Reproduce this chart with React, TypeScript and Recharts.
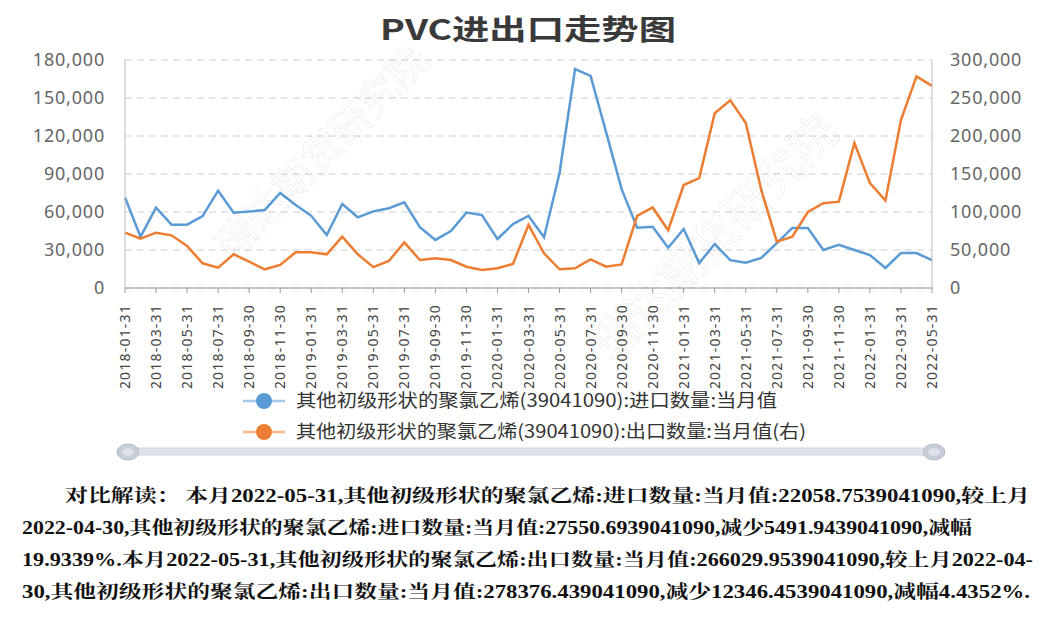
import React from 'react';
import { LineChart, Line, XAxis, YAxis, CartesianGrid } from 'recharts';

const dates = [
  '2018-01-31', '2018-02-28', '2018-03-31', '2018-04-30', '2018-05-31', '2018-06-30',
  '2018-07-31', '2018-08-31', '2018-09-30', '2018-10-31', '2018-11-30', '2018-12-31',
  '2019-01-31', '2019-02-28', '2019-03-31', '2019-04-30', '2019-05-31', '2019-06-30',
  '2019-07-31', '2019-08-31', '2019-09-30', '2019-10-31', '2019-11-30', '2019-12-31',
  '2020-01-31', '2020-02-29', '2020-03-31', '2020-04-30', '2020-05-31', '2020-06-30',
  '2020-07-31', '2020-08-31', '2020-09-30', '2020-10-31', '2020-11-30', '2020-12-31',
  '2021-01-31', '2021-02-28', '2021-03-31', '2021-04-30', '2021-05-31', '2021-06-30',
  '2021-07-31', '2021-08-31', '2021-09-30', '2021-10-31', '2021-11-30', '2021-12-31',
  '2022-01-31', '2022-02-28', '2022-03-31', '2022-04-30', '2022-05-31',
];

// 进口数量 (left axis)
const importQty = [
  71500, 40500, 63500, 50000, 50000, 56800, 76800, 59500, 60300, 61600, 75000, 65500,
  57000, 41800, 66300, 55800, 60500, 63000, 67700, 48000, 38000, 45000, 59500, 57600,
  38700, 50500, 57000, 40000, 90800, 172900, 167400, 123000, 78000, 47600, 48400, 31800,
  46600, 19700, 34700, 22000, 20000, 23700, 35500, 47400, 47400, 30000, 34000, 30000,
  26000, 15800, 27600, 27551, 22059,
];

// 出口数量 (right axis)
const exportQty = [
  72800, 64900, 72800, 69300, 55300, 32500, 26700, 44300, 34600, 24600, 30300, 47000,
  47000, 44300, 67500, 44300, 27500, 35500, 60000, 36800, 39000, 36800, 28000, 23700,
  25900, 31600, 82900, 45600, 24600, 25900, 37700, 28000, 31100, 95000, 106000, 76000,
  135500, 144700, 230000, 247000, 217000, 129000, 61000, 67500, 100000, 111600, 113600, 190800,
  138000, 115000, 221000, 278376, 266030,
];

const leftTicks = [0, 30000, 60000, 90000, 120000, 150000, 180000];
const rightTicks = [0, 50000, 100000, 150000, 200000, 250000, 300000];

const seriesNames = [
  '其他初级形状的聚氯乙烯(39041090):进口数量:当月值',
  '其他初级形状的聚氯乙烯(39041090):出口数量:当月值(右)',
];

const summaryLines = [
  '对比解读： 本月2022-05-31,其他初级形状的聚氯乙烯:进口数量:当月值:22058.7539041090,较上月',
  '2022-04-30,其他初级形状的聚氯乙烯:进口数量:当月值:27550.6939041090,减少5491.9439041090,减幅',
  '19.9339%.本月2022-05-31,其他初级形状的聚氯乙烯:出口数量:当月值:266029.9539041090,较上月2022-04-',
  '30,其他初级形状的聚氯乙烯:出口数量:当月值:278376.439041090,减少12346.4539041090,减幅4.4352%.',
];

const BLUE = '#5b9bd5';
const ORANGE = '#ed7d31';
const AXIS_FONT = '"Noto Sans", "DejaVu Sans", sans-serif';

const data = dates.map((d, i) => ({ date: d, imp: importQty[i], exp: exportQty[i] }));

const fmt = (v: number) => v.toLocaleString('en-US');

// eslint-disable-next-line @typescript-eslint/no-explicit-any
const DateTick = (props: any) => {
  const { x, y, payload } = props;
  return (
    <g transform={`translate(${x},${y})`}>
      <text
        transform="rotate(-90)"
        x={-9}
        y={0}
        dy={5}
        textAnchor="end"
        fill="#444"
        fontSize={14}
        letterSpacing={1.2}
        fontFamily={AXIS_FONT}
      >
        {payload.value}
      </text>
    </g>
  );
};

export default function App() {
  return (
    <div
      style={{
        position: 'absolute',
        left: 0,
        top: 0,
        width: 1056,
        height: 630,
        background: '#fff',
        overflow: 'hidden',
      }}
    >
      {/* Title */}
      <svg width={1056} height={60} style={{ position: 'absolute', left: 0, top: 0 }}>
        <text
          x={380}
          y={40}
          textLength={296}
          lengthAdjust="spacingAndGlyphs"
          fontSize={28}
          fontWeight="bold"
          fill="#3a3a3a"
          fontFamily='"Noto Sans CJK SC", sans-serif'
        >
          PVC进出口走势图
        </text>
      </svg>

      <div style={{ position: 'absolute', left: 0, top: 0 }}>
        <LineChart width={1056} height={400} data={data} margin={{ top: 60, right: 0, left: 0, bottom: 0 }}>
          <CartesianGrid yAxisId="left" vertical={false} stroke="#cfcfcf" strokeDasharray="7 5" />
          <XAxis
            dataKey="date"
            interval={1}
            height={112}
            tick={<DateTick />}
            tickLine={{ stroke: '#999' }}
            tickSize={5}
            axisLine={{ stroke: '#999' }}
          />
          <YAxis
            yAxisId="left"
            width={125}
            domain={[0, 180000]}
            ticks={leftTicks}
            tickFormatter={fmt}
            tickLine={false}
            axisLine={{ stroke: '#bbb' }}
            tickMargin={14}
            tick={{ fill: '#666', fontSize: 18, fontFamily: AXIS_FONT, letterSpacing: 0.8 }}
          />
          <YAxis
            yAxisId="right"
            orientation="right"
            width={124}
            domain={[0, 300000]}
            ticks={rightTicks}
            tickFormatter={fmt}
            tickLine={false}
            axisLine={{ stroke: '#bbb' }}
            tickMargin={12}
            tick={{ fill: '#666', fontSize: 18, fontFamily: AXIS_FONT, letterSpacing: 0.8 }}
          />
          <Line
            yAxisId="left"
            type="linear"
            dataKey="imp"
            stroke={BLUE}
            strokeWidth={2.5}
            dot={false}
            isAnimationActive={false}
          />
          <Line
            yAxisId="right"
            type="linear"
            dataKey="exp"
            stroke={ORANGE}
            strokeWidth={2.5}
            dot={false}
            isAnimationActive={false}
          />
        </LineChart>
      </div>

      {/* Watermark */}
      <svg width={1056} height={400} style={{ position: 'absolute', left: 0, top: 0, pointerEvents: 'none' }}>
        <text
          x={320}
          y={150}
          textAnchor="middle"
          dominantBaseline="central"
          transform="rotate(-45 320 150)"
          fontSize={40}
          fill="none"
          stroke="rgba(0,0,0,0.08)"
          strokeWidth={1}
          fontFamily='"Noto Sans CJK SC", sans-serif'
        >
          瑞达期货研究院
        </text>
        <text
          x={712}
          y={235}
          textAnchor="middle"
          dominantBaseline="central"
          transform="rotate(-45 712 235)"
          fontSize={46}
          fill="none"
          stroke="rgba(0,0,0,0.08)"
          strokeWidth={1}
          fontFamily='"Noto Sans CJK SC", sans-serif'
        >
          瑞达期货研究院
        </text>
      </svg>

      {/* Legend */}
      <svg width={1056} height={60} style={{ position: 'absolute', left: 0, top: 385 }}>
        {seriesNames.map((name, i) => {
          const color = i === 0 ? BLUE : ORANGE;
          const cy = 16 + i * 31;
          return (
            <g key={name}>
              <line x1={243} x2={285} y1={cy} y2={cy} stroke={color} strokeOpacity={0.55} strokeWidth={2.5} />
              <circle cx={264} cy={cy} r={8} fill={color} />
              <text
                x={296}
                y={cy + 6}
                textLength={i === 0 ? 481 : 510}
                lengthAdjust="spacingAndGlyphs"
                fontSize={18}
                fill="#333"
                fontFamily='"Noto Sans CJK SC", sans-serif'
              >
                {name}
              </text>
            </g>
          );
        })}
      </svg>

      {/* Slider */}
      <svg width={1056} height={30} style={{ position: 'absolute', left: 0, top: 437 }}>
        <rect x={120} y={11} width={816} height={7} rx={3} fill="#dfe3ea" stroke="#cfd5de" />
        {[128, 934].map((cx) => (
          <g key={cx}>
            <ellipse cx={cx} cy={15} rx={11} ry={8} fill="#c5ccd8" stroke="#b7bfcc" />
            <ellipse cx={cx} cy={15} rx={6} ry={4} fill="#dde2ea" />
          </g>
        ))}
      </svg>

      {/* Summary text */}
      <svg width={1056} height={170} style={{ position: 'absolute', left: 0, top: 460 }}>
        {summaryLines.map((line, i) => (
          <text
            key={i}
            x={i === 0 ? 65 : 22}
            y={42 + i * 32}
            textLength={[965, 950, 1011, 1008][i]}
            lengthAdjust="spacingAndGlyphs"
            fontSize={18}
            fontWeight="bold"
            fill="#111"
            fontFamily='"Liberation Serif", "Noto Serif CJK SC", "Noto Sans CJK SC", serif'
          >
            {line}
          </text>
        ))}
      </svg>
    </div>
  );
}
